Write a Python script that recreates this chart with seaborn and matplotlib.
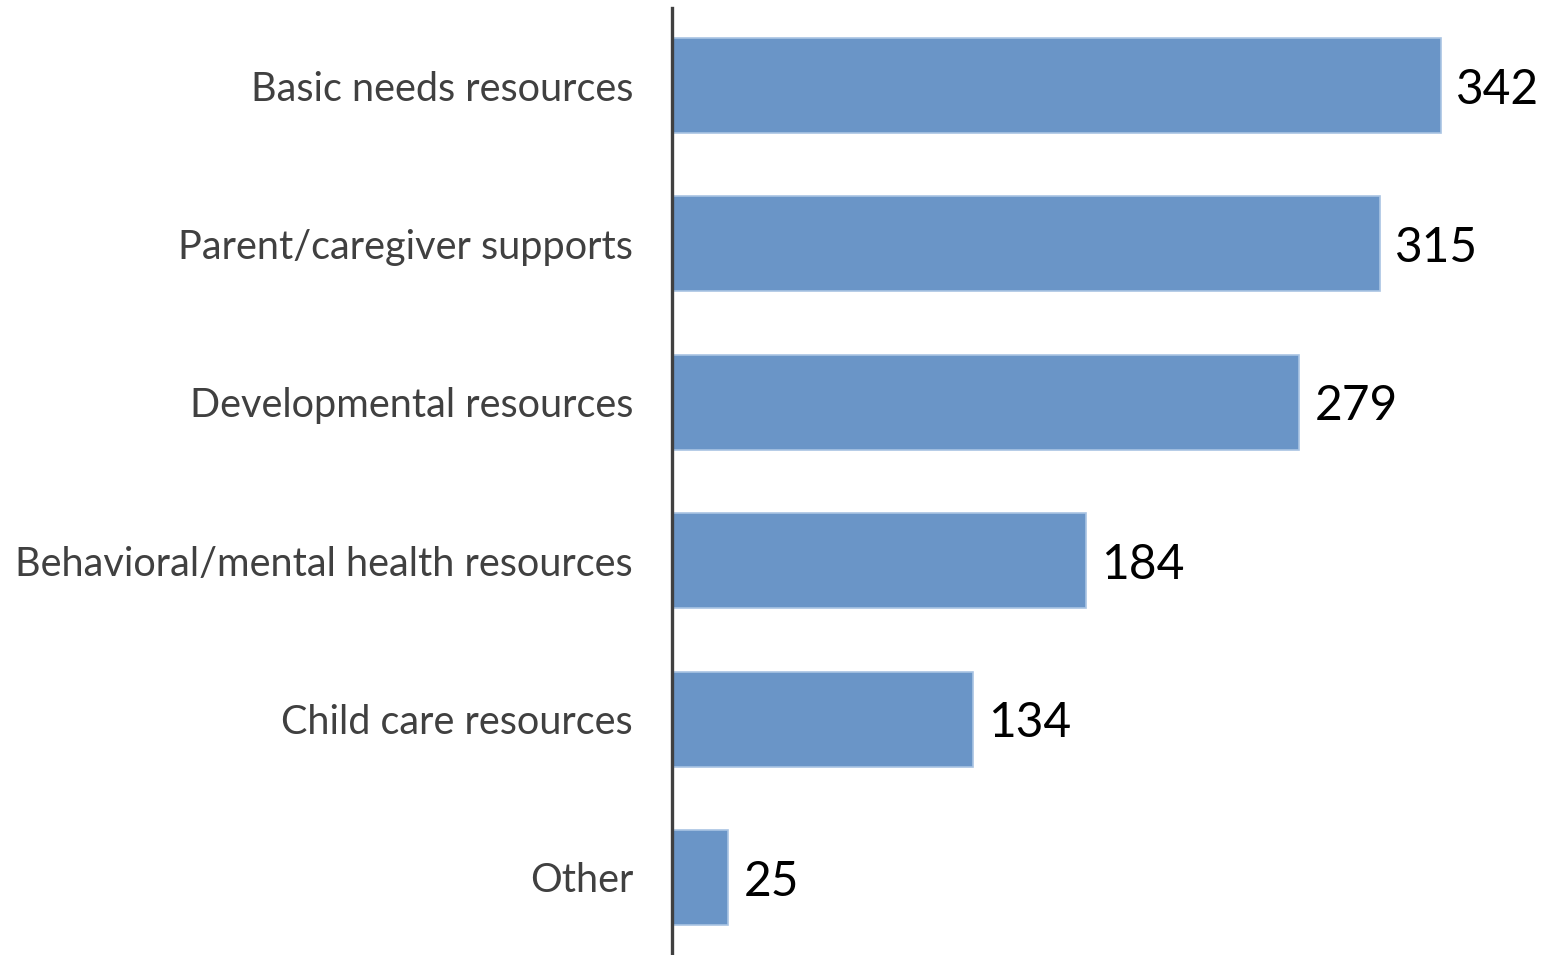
import matplotlib
matplotlib.use("Agg")
import matplotlib.pyplot as plt
import seaborn as sns
import pandas as pd

categories = [
    "Basic needs resources",
    "Parent/caregiver supports",
    "Developmental resources",
    "Behavioral/mental health resources",
    "Child care resources",
    "Other",
]
counts = [342, 315, 279, 184, 134, 25]

df = pd.DataFrame({"category": categories, "count": counts})

sns.set_theme(style="white")
plt.rcParams["font.family"] = ["Lato", "DejaVu Sans"]

fig = plt.figure(figsize=(15.53, 9.55), dpi=100)
ax = fig.add_axes([672 / 1553, 0, (1553 - 672) / 1553, 947 / 955])

sns.barplot(data=df, x="count", y="category", orient="h", color="#6A95C7",
            width=0.6, saturation=1, edgecolor="#A9C4E3", linewidth=1.2, ax=ax)

ax.set_xlim(0, 392)
ax.set_ylim(5.49, -0.49)
ax.set_xlabel("")
ax.set_ylabel("")
ax.set_xticks([])
ax.tick_params(axis="y", length=0, pad=28, labelsize=28.5, labelcolor="#404040")

for s in ["top", "right", "bottom"]:
    ax.spines[s].set_visible(False)
ax.spines["left"].set_color("#404040")
ax.spines["left"].set_linewidth(2.4)

for i, v in enumerate(counts):
    ax.annotate(str(v), (v, i), xytext=(11, -3), textcoords="offset points",
                ha="left", va="center", fontsize=34.5, color="black")

fig.savefig("out.png", dpi=100)
